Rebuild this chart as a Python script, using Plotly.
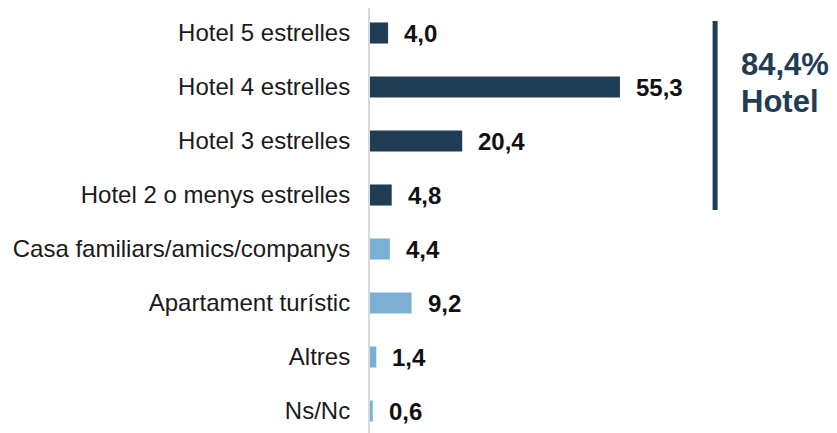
import plotly.graph_objects as go

categories = ["Hotel 5 estrelles", "Hotel 4 estrelles", "Hotel 3 estrelles",
              "Hotel 2 o menys estrelles", "Casa familiars/amics/companys",
              "Apartament turístic", "Altres", "Ns/Nc"]
values = [4.0, 55.3, 20.4, 4.8, 4.4, 9.2, 1.4, 0.6]
value_labels = ["4,0", "55,3", "20,4", "4,8", "4,4", "9,2", "1,4", "0,6"]
group_lines = ["84,4%", "Hotel"]

dark = "#1F3D55"
light = "#7BAFD4"
colors = [dark] * 4 + [light] * 4
FONT = "Liberation Sans, Arial"

fig = go.Figure()
fig.add_trace(go.Bar(
    x=values, y=categories, orientation="h",
    marker=dict(color=colors, line=dict(width=0)),
    hoverinfo="skip",
))

for v, c, t in zip(values, categories, value_labels):
    fig.add_annotation(x=v, y=c, text="<b>%s</b>" % t, showarrow=False,
                       xanchor="left", yanchor="middle", xshift=14,
                       font=dict(family=FONT, size=24, color="#111111"))

fig.add_shape(type="line", xref="paper", yref="y",
              x0=0.739, x1=0.739, y0=-0.222, y1=3.278,
              line=dict(color=dark, width=5))
for yy, line in zip([0.59, 1.26], group_lines):
    fig.add_annotation(xref="paper", yref="y", x=0.79, y=yy, text="<b>%s</b>" % line,
                       showarrow=False, xanchor="left", yanchor="middle", align="left",
                       font=dict(family=FONT, size=31, color=dark))

fig.update_layout(
    width=829, height=425,
    margin=dict(l=362, r=0, t=0, b=0, autoexpand=False),
    paper_bgcolor="white", plot_bgcolor="white",
    bargap=0.61,
    showlegend=False,
    xaxis=dict(range=[0, 467 / 4.52], visible=False, fixedrange=True, automargin=False),
    yaxis=dict(categoryorder="array", categoryarray=categories, automargin=False,
               range=[7.407, -0.463], showline=True, linecolor="#D9D9D9", linewidth=2,
               showgrid=False, zeroline=False, ticks="", ticklabelstandoff=13,
               tickfont=dict(family=FONT, size=24, color="#1a1a1a")),
)

fig.write_html("out.html")
